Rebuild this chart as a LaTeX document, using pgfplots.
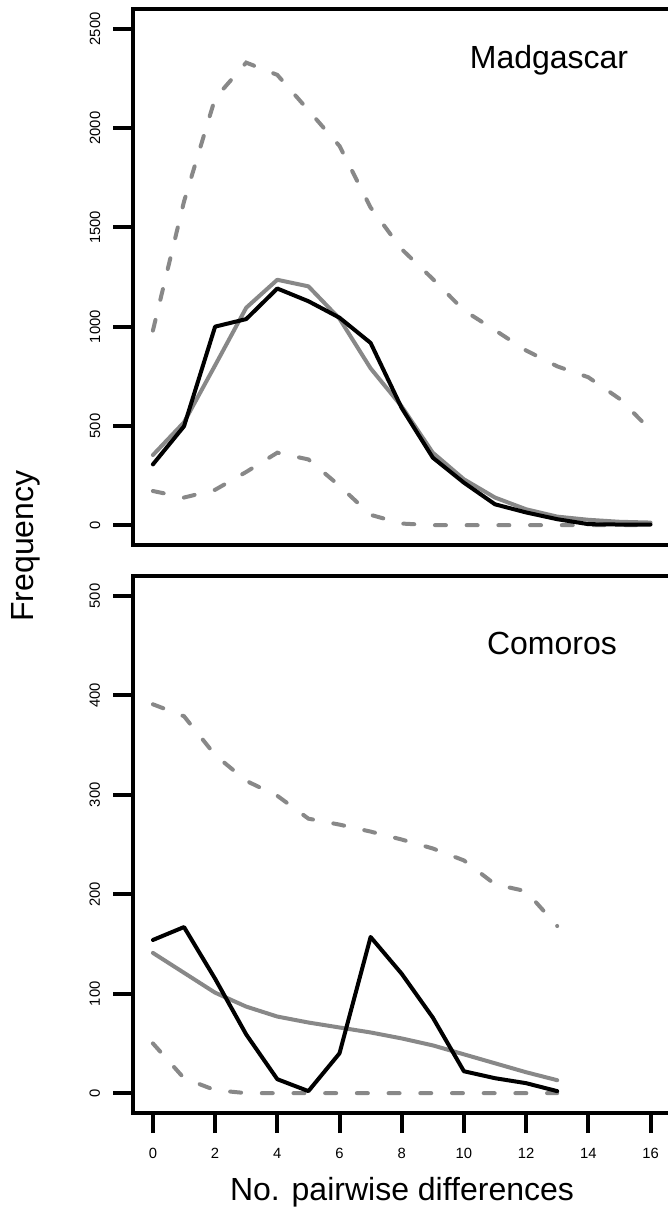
\documentclass[border=0pt]{standalone}
\usepackage{fontspec}
\setmainfont{Liberation Sans}
\usepackage{pgfplots}
\pgfplotsset{compat=1.18}
\definecolor{curvegray}{RGB}{136,136,136}
\pgfplotsset{
  panel/.style={
    scale only axis, width=537.4bp, xmin=-0.64, xmax=16.64, anchor=north west,
    axis line style={line width=4bp}, tick align=outside, major tick length=20bp,
    tick style={black, line width=4bp}, xtick pos=left, ytick pos=left,
    tick label style={font=\fontsize{14.8bp}{17bp}\selectfont, inner sep=0pt},
    /pgf/number format/assume math mode=true, /pgf/number format/1000 sep={},
    yticklabel style={rotate=90, anchor=base}, yticklabel shift=13bp,
    xticklabel style={anchor=base}, xticklabel shift=25bp,
  },
  obs/.style={black, line width=4bp, line join=round, line cap=round},
  expc/.style={curvegray, line width=4bp, line join=round, line cap=round},
  env/.style={curvegray, line width=4bp, line cap=round, dash pattern=on 11bp off 20.7bp},
}
\begin{document}
\begin{tikzpicture}
\path[use as bounding box] (0,0) rectangle (668bp,-1208bp);

% Madagascar
\begin{axis}[panel, at={(133bp,-9bp)}, height=536bp, ymin=-100, ymax=2600,
  xtick=\empty, ytick={0,500,1000,1500,2000,2500}]
\addplot[env] coordinates {(0,980)(1,1630)(2,2150)(3,2330)(4,2268)(5,2090)(6,1910)(7,1600)
  (8,1390)(9,1240)(10,1082)(11,982)(12,880)(13,800)(14,745)(15,637)(16,480)};
\addplot[env] coordinates {(0,172)(1,139)(2,178)(3,268)(4,365)(5,331)(6,198)(7,52)
  (8,8)(9,0)(10,0)(11,0)(12,0)(13,0)(14,0)(15,0)(16,0)};
\addplot[expc] coordinates {(0,353)(1,518)(2,805)(3,1095)(4,1236)(5,1203)(6,1040)(7,790)
  (8,598)(9,365)(10,231)(11,139)(12,80)(13,43)(14,27)(15,17)(16,13)};
\addplot[obs] coordinates {(0,306)(1,498)(2,1000)(3,1038)(4,1192)(5,1128)(6,1045)(7,918)
  (8,590)(9,340)(10,214)(11,105)(12,64)(13,30)(14,5)(15,3)(16,3)};
\end{axis}

% Comoros
\begin{axis}[panel, at={(133bp,-576bp)}, height=537bp, ymin=-20, ymax=520,
  xtick={0,2,...,16}, ytick={0,100,200,300,400,500}]
\addplot[env] coordinates {(0,391)(1,379)(2,340)(3,314)(4,299)(5,276)(6,270)(7,263)
  (8,255)(9,246)(10,234)(11,210)(12,203)(13,168)};
\addplot[env] coordinates {(0,50)(1,15)(2,3)(3,0)(4,0)(5,0)(6,0)(7,0)
  (8,0)(9,0)(10,0)(11,0)(12,0)(13,0)};
\addplot[expc] coordinates {(0,141)(1,121)(2,101)(3,87)(4,77)(5,71)(6,66)(7,61)
  (8,55)(9,48)(10,39)(11,30)(12,21)(13,13)};
\addplot[obs] coordinates {(0,154)(1,167)(2,115)(3,59)(4,14)(5,2)(6,40)(7,157)
  (8,120)(9,76)(10,22)(11,15)(12,10)(13,2)};
\end{axis}

\node[anchor=base, inner sep=0pt, font=\fontsize{32bp}{38bp}\selectfont] at (549bp,-68bp) {Madgascar};
\node[anchor=base, inner sep=0pt, font=\fontsize{32bp}{38bp}\selectfont] at (552bp,-654bp) {Comoros};
\node[anchor=base, rotate=90, inner sep=0pt, font=\fontsize{32bp}{38bp}\selectfont] at (33bp,-546bp) {Frequency};
\node[anchor=base, inner sep=0pt, font=\fontsize{32bp}{38bp}\selectfont] at (402bp,-1200bp) {No. pairwise differences};
\end{tikzpicture}
\end{document}
